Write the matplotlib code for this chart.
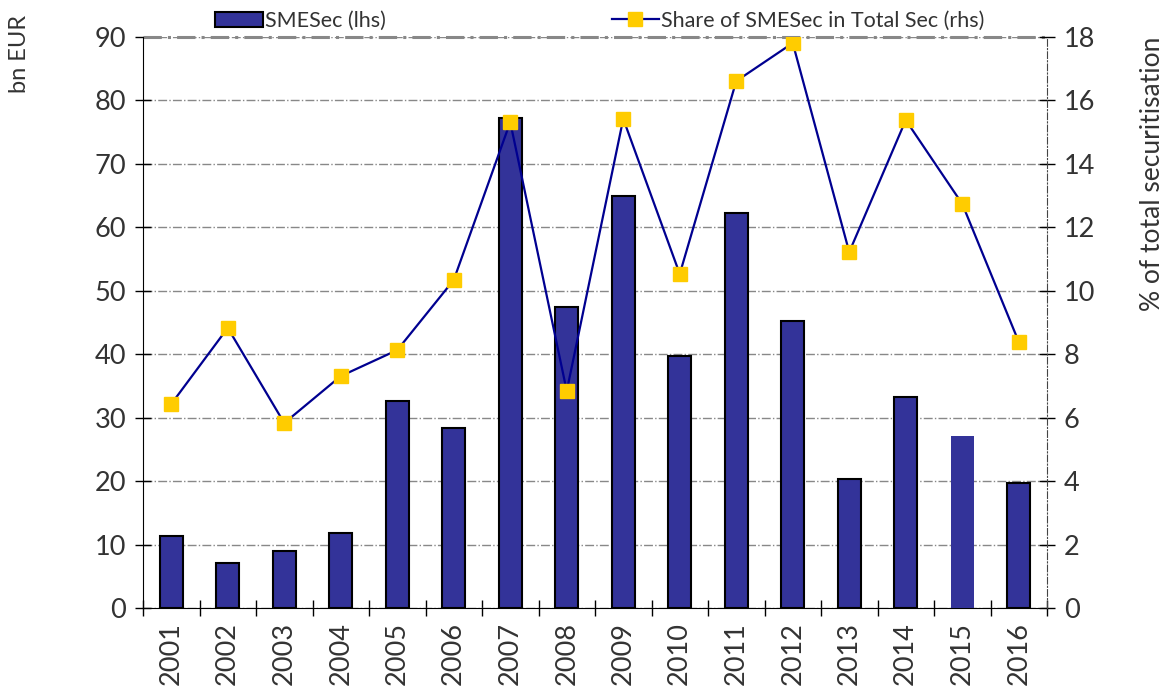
import matplotlib
matplotlib.use("Agg")
import matplotlib.pyplot as plt
import numpy as np
from matplotlib.patches import Patch
from matplotlib.lines import Line2D

years = ["2001", "2002", "2003", "2004", "2005", "2006", "2007", "2008",
         "2009", "2010", "2011", "2012", "2013", "2014", "2015", "2016"]
sme_sec = [11.3, 7.1, 9.0, 11.8, 32.6, 28.4, 77.2, 47.4,
           65.0, 39.7, 62.3, 45.2, 20.3, 33.3, 27.1, 19.7]
share_pct = [6.43, 8.83, 5.83, 7.31, 8.13, 10.34, 15.32, 6.84,
             15.42, 10.53, 16.61, 17.81, 11.22, 15.38, 12.74, 8.39]

plt.rcParams["font.family"] = ["Lato", "DejaVu Sans"]
text_col = "#333333"
bar_col = "#333399"
line_col = "#000090"
mark_col = "#FFCC00"
tick_fs = 19.5

W, H = 1166, 697
fig = plt.figure(figsize=(W / 100, H / 100), dpi=100)
ax = fig.add_axes([143 / W, 1 - 608 / H, (1047 - 143) / W, (608 - 37) / H])
ax2 = ax.twinx()

x = np.arange(len(years))
edges = ["black"] * len(years)
lws = [1.5] * len(years)
edges[years.index("2015")] = bar_col
lws[years.index("2015")] = 0
ax.bar(x, sme_sec, width=0.41, color=bar_col, edgecolor=edges, linewidth=lws, zorder=3)

ax2.plot(x, share_pct, color=line_col, lw=1.6, marker="s", ms=10,
         mfc=mark_col, mec=mark_col, zorder=4)

ax.set_xlim(-0.5, len(years) - 0.5)
ax.set_ylim(0, 90)
ax2.set_ylim(0, 18)
ax.set_yticks(np.arange(0, 91, 10))
ax2.set_yticks(np.arange(0, 19, 2))

ax.set_xticks(x)
ax.set_xticklabels(years, rotation=90)
ax.set_xticks(np.arange(-0.5, len(years), 1), minor=True)
ax.tick_params(axis="x", which="major", length=0, pad=10, labelsize=tick_fs, labelcolor=text_col)
ax.tick_params(axis="x", which="minor", direction="inout", length=12, width=1)
ax.tick_params(axis="y", direction="inout", length=12, width=1, labelsize=tick_fs,
               labelcolor=text_col, pad=6)
ax2.tick_params(axis="y", direction="inout", length=12, width=1, labelsize=tick_fs,
                labelcolor=text_col, pad=6)

ax.grid(axis="y", color="#888888", linestyle="-.", linewidth=1, zorder=0)
ax.set_axisbelow(True)

for a in (ax, ax2):
    for side in ("top", "right", "left", "bottom"):
        a.spines[side].set_visible(False)
ax.spines["left"].set_visible(True)
ax.spines["left"].set_color("black")
ax.spines["bottom"].set_visible(True)
ax.spines["bottom"].set_color("black")
ax2.spines["right"].set_visible(True)
ax2.spines["right"].set_linestyle((0, (6, 2, 1, 2)))
ax2.spines["right"].set_color("#444444")
ax.axhline(90, color="#888888", linestyle=(0, (6, 2, 1, 2)), lw=2.2, zorder=1, clip_on=False)

# axis titles, top-aligned next to each value axis
fig.text(20 / W, 1 - 15 / H, "bn EUR", rotation=90, ha="center", va="top",
         fontsize=17, color=text_col)
fig.text(1152 / W, 1 - 37 / H, "% of total securitisation", rotation=90,
         ha="center", va="top", fontsize=19, color=text_col)

handles = [Patch(facecolor=bar_col, edgecolor="black", linewidth=1.5),
           Line2D([0], [0], color=line_col, lw=1.6, marker="s", ms=10,
                  mfc=mark_col, mec=mark_col)]
leg = fig.legend(handles, ["SMESec (lhs)", "Share of SMESec in Total Sec (rhs)"],
                 loc="upper center", bbox_to_anchor=(0.5146, 1.012), ncol=2, frameon=False,
                 fontsize=15.5, handlelength=2.2, handletextpad=0.1, columnspacing=10.5)
for t in leg.get_texts():
    t.set_color(text_col)

fig.savefig("out.png", dpi=100)
